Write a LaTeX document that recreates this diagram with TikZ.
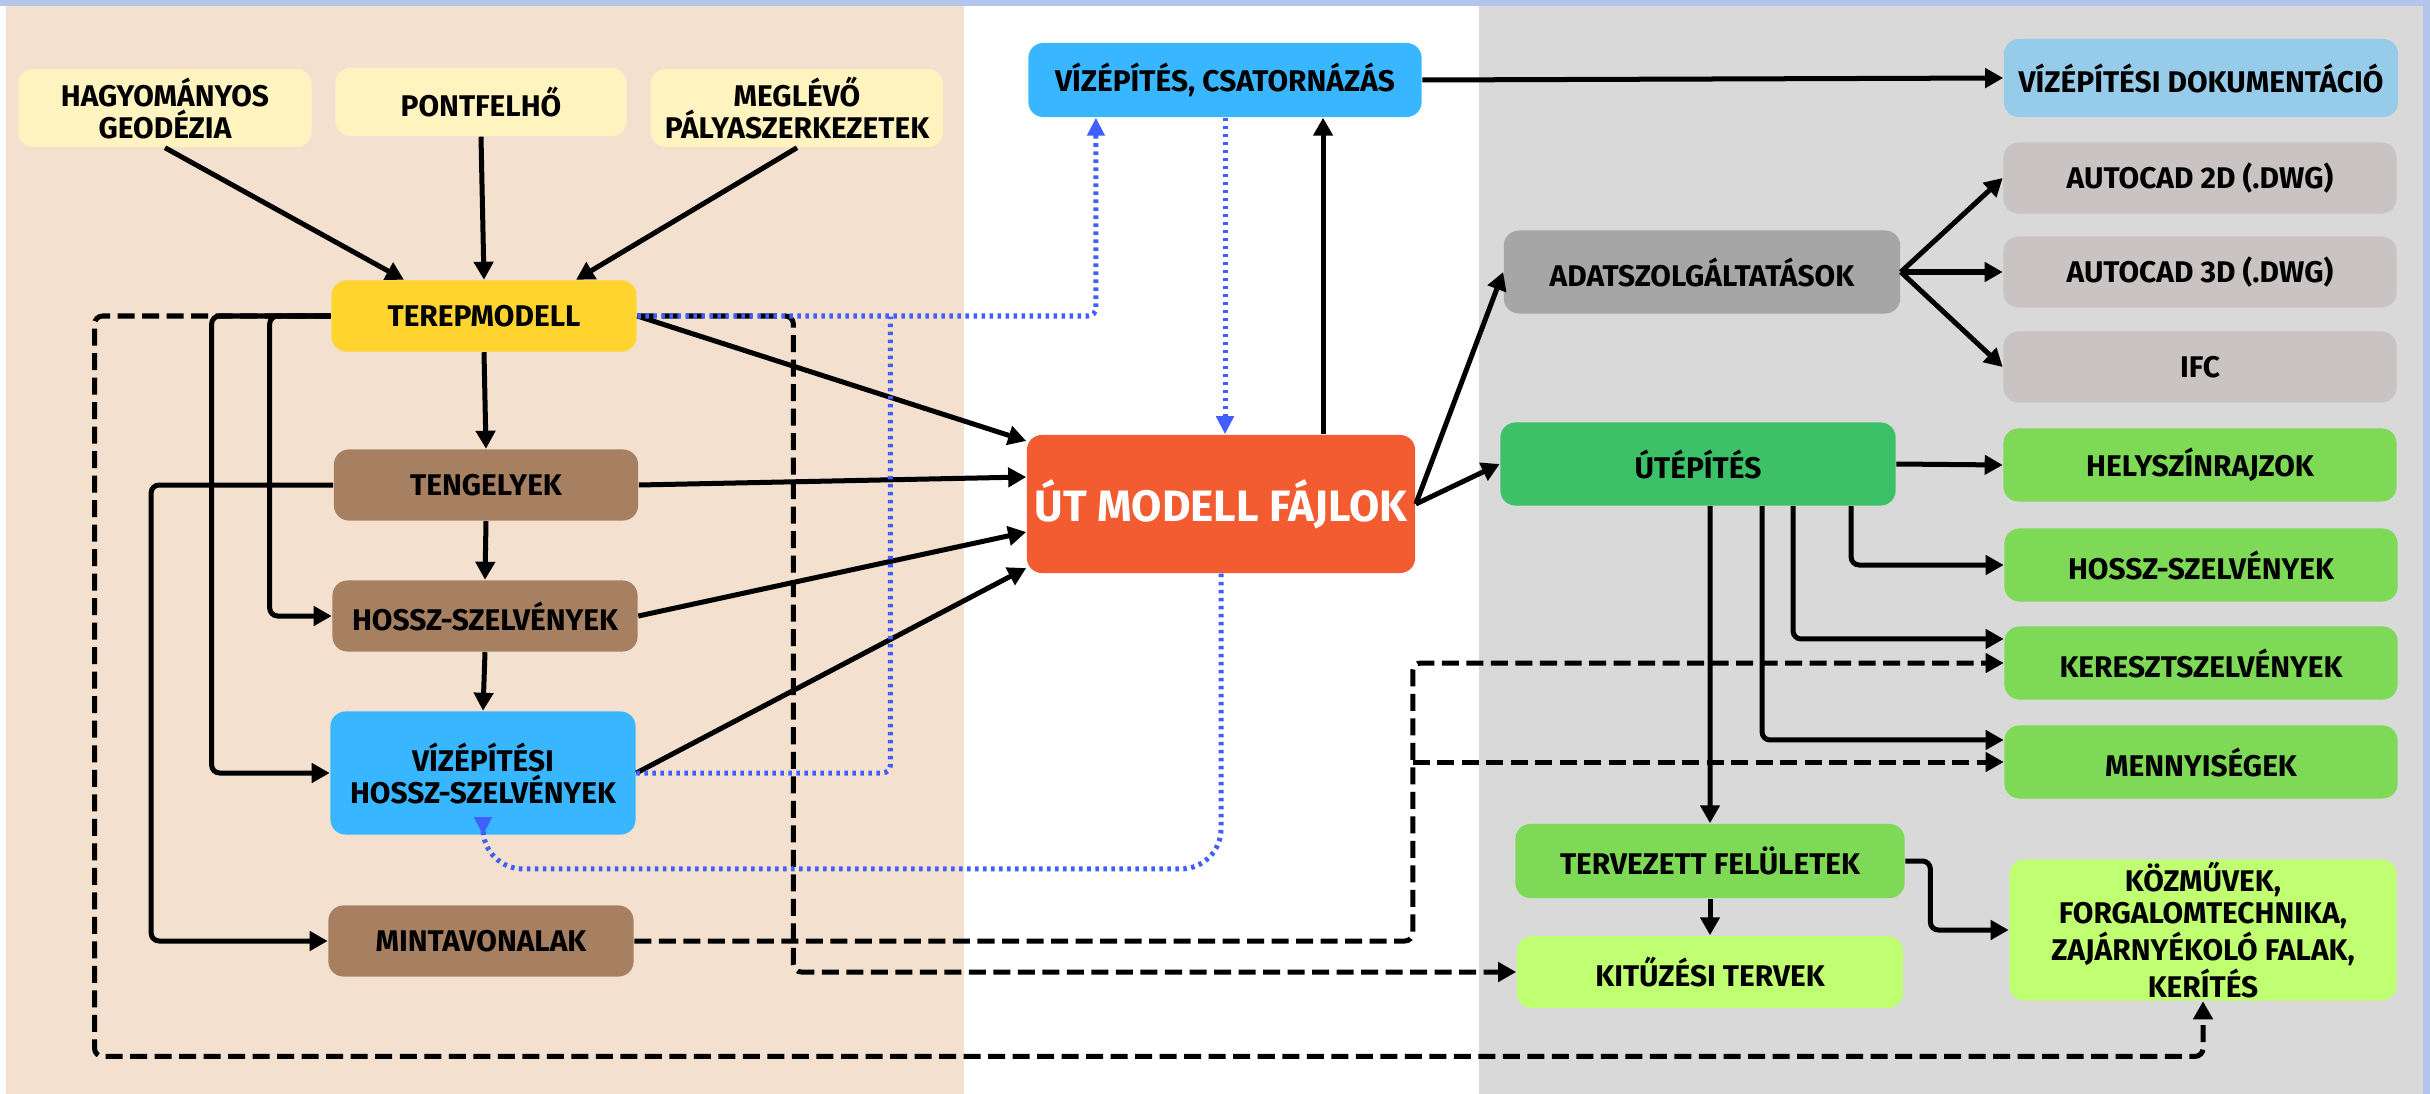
\documentclass[tikz,border=0pt]{standalone}
\usepackage{fontspec}
\setmainfont{Fira Sans}
\usetikzlibrary{arrows.meta,calc}
\definecolor{cBeige}{HTML}{F3E0CF}
\definecolor{cTop}{HTML}{B3C5EB}
\definecolor{cGrey}{HTML}{D9D9D9}
\definecolor{cYel}{HTML}{FFF3BF}
\definecolor{cGold}{HTML}{FFD42F}
\definecolor{cBrown}{HTML}{A68061}
\definecolor{cBlue}{HTML}{38B6FF}
\definecolor{cOrange}{HTML}{F35B31}
\definecolor{cAdat}{HTML}{A6A6A6}
\definecolor{cAc}{HTML}{C9C3C3}
\definecolor{cDok}{HTML}{97CBEA}
\definecolor{cUtep}{HTML}{3CC169}
\definecolor{cLG}{HTML}{7ED957}
\definecolor{cLime}{HTML}{C1FF72}
\definecolor{dotblue}{HTML}{3F5FFF}
\newcommand\nfnt{\fontsize{8.5}{9.1}\selectfont\bfseries}
\begin{document}
\begin{tikzpicture}[x=0.01cm,y=-0.01cm,
  nb/.style={rounded corners=0.15cm, align=center, inner sep=0pt, font=\nfnt, text=black},
  con/.style={line width=0.05cm, draw=black, rounded corners=0.08cm},
  arr/.style={-{Triangle[length=0.18cm,width=0.19cm]}},
  dsh/.style={dash pattern=on 0.17cm off 0.075cm},
  blu/.style={draw=dotblue, line width=0.05cm, dash pattern=on 0.035cm off 0.045cm, rounded corners=0.08cm},
  barr/.style={-{Triangle[length=0.18cm,width=0.17cm]}}]
\useasboundingbox (0,0) rectangle (2430,1094);
% backgrounds
\fill[white] (0,0) rectangle (2430,1094);
\fill[cTop] (0,0) rectangle (2430,6);
\fill[cTop] (2423,0) rectangle (2430,1094);
\fill[cBeige] (6,6) rectangle (964,1094);
\fill[cGrey] (1479,6) rectangle (2423,1094);
% nodes
\node[nb, fill=cYel, minimum width=2.93cm, minimum height=0.78cm] (hag) at (165,108) {HAGYOMÁNYOS\\GEODÉZIA};
\node[nb, fill=cYel, minimum width=2.91cm, minimum height=0.68cm] (pont) at (481,102) {PONTFELHŐ};
\node[nb, fill=cYel, minimum width=2.92cm, minimum height=0.78cm] (megl) at (797,108) {MEGLÉVŐ\\PÁLYASZERKEZETEK};
\node[nb, fill=cGold, minimum width=3.05cm, minimum height=0.71cm] (terep) at (484,316) {TEREPMODELL};
\node[nb, fill=cBrown, minimum width=3.04cm, minimum height=0.71cm] (teng) at (486,485) {TENGELYEK};
\node[nb, fill=cBrown, minimum width=3.05cm, minimum height=0.71cm] (hossz) at (485,616) {HOSSZ-SZELVÉNYEK};
\node[nb, fill=cBlue, minimum width=3.05cm, minimum height=1.23cm] (vizh) at (483,773) {VÍZÉPÍTÉSI\\HOSSZ-SZELVÉNYEK};
\node[nb, fill=cBrown, minimum width=3.05cm, minimum height=0.71cm] (minta) at (481,941) {MINTAVONALAK};
\node[nb, fill=cBlue, minimum width=3.93cm, minimum height=0.74cm] (vizcs) at (1225,80) {VÍZÉPÍTÉS, CSATORNÁZÁS};
\node[nb, fill=cOrange, minimum width=3.88cm, minimum height=1.38cm, text=white, font=\fontsize{12.5}{14}\selectfont\bfseries] (ut) at (1221,504) {ÚT MODELL FÁJLOK};
\node[nb, fill=cAdat, minimum width=3.96cm, minimum height=0.83cm] (adat) at (1702,272) {ADATSZOLGÁLTATÁSOK};
\node[nb, fill=cUtep, minimum width=3.95cm, minimum height=0.83cm] (utep) at (1698,464) {ÚTÉPÍTÉS};
\node[nb, fill=cDok, minimum width=3.94cm, minimum height=0.78cm] (dok) at (2201,78) {VÍZÉPÍTÉSI DOKUMENTÁCIÓ};
\node[nb, fill=cAc, minimum width=3.93cm, minimum height=0.71cm] (ac2) at (2200,178) {AUTOCAD 2D (.DWG)};
\node[nb, fill=cAc, minimum width=3.93cm, minimum height=0.71cm] (ac3) at (2200,272) {AUTOCAD 3D (.DWG)};
\node[nb, fill=cAc, minimum width=3.93cm, minimum height=0.71cm] (ifc) at (2200,367) {IFC};
\node[nb, fill=cLG, minimum width=3.93cm, minimum height=0.73cm] (helysz) at (2200,465) {HELYSZÍNRAJZOK};
\node[nb, fill=cLG, minimum width=3.93cm, minimum height=0.73cm] (hossz2) at (2201,565) {HOSSZ-SZELVÉNYEK};
\node[nb, fill=cLG, minimum width=3.93cm, minimum height=0.73cm] (ker) at (2201,663) {KERESZTSZELVÉNYEK};
\node[nb, fill=cLG, minimum width=3.93cm, minimum height=0.73cm] (menny) at (2201,762) {MENNYISÉGEK};
\node[nb, fill=cLime, minimum width=3.87cm, minimum height=1.41cm] (kozm) at (2203,930) {KÖZMŰVEK,\\FORGALOMTECHNIKA,\\ZAJÁRNYÉKOLÓ FALAK,\\KERÍTÉS};
\node[nb, fill=cLG, minimum width=3.89cm, minimum height=0.74cm] (terv) at (1710,861) {TERVEZETT FELÜLETEK};
\node[nb, fill=cLime, minimum width=3.86cm, minimum height=0.72cm] (kit) at (1710,972) {KITŰZÉSI TERVEK};
% helper coordinates
\coordinate (dj) at ([xshift=7.78cm]minta.east);
\coordinate (bj) at ([xshift=2.54cm]vizh.east);
% inputs to terepmodell
\draw[con,arr] (hag.south) -- ([xshift=-0.8cm]terep.north);
\draw[con,arr] (pont.south) -- (terep.north);
\draw[con,arr] (megl.south) -- ([xshift=0.92cm]terep.north);
% vertical chain
\draw[con,arr] (terep.south) -- (teng.north);
\draw[con,arr] (teng.south) -- (hossz.north);
\draw[con,arr] (hossz.south) -- (vizh.north);
% left side elbows
\draw[con,arr] (terep.west) -- ++(-1.19cm,0) |- (vizh.west);
\draw[con,arr] (terep.west) -- ++(-0.61cm,0) |- (hossz.west);
\draw[con,arr] (teng.west) -- ++(-1.82cm,0) |- (minta.west);
\draw[con,dsh,arr] (terep.west) -- ++(-2.36cm,0) -- ++(0,-7.40cm) -| (kozm.south);
% to UT MODELL
\draw[con,arr] (terep.east) -- ([yshift=0.63cm]ut.west);
\draw[con,arr] (teng.east) -- ([yshift=0.27cm]ut.west);
\draw[con,arr] (hossz.east) -- ([yshift=-0.28cm]ut.west);
\draw[con,arr] (vizh.east) -- ([yshift=-0.64cm]ut.west);
% dashed terep -> kitűzési
\draw[con,dsh,arr] (terep.east) -- ++(1.56cm,0) |- (kit.west);
% blue dotted
\draw[blu,barr] (terep.east) -| ([xshift=-1.29cm]vizcs.south);
\draw[blu] (vizh.east) -- (bj) -- ++(0,4.56cm);
\draw[blu,barr] (vizcs.south) -- (vizcs.south |- ut.north);
\draw[blu,barr,rounded corners=0.4cm] (ut.south) -- ++(0,-2.95cm) -| (vizh.south);
% up arrow ut -> vizcs
\draw[con,arr] ([xshift=1.02cm]ut.north) -- ([xshift=1.02cm]ut.north |- vizcs.south);
\draw[con,arr] (vizcs.east) -- (dok.west);
% ut -> right
\draw[con,arr] (ut.east) -- (adat.west);
\draw[con,arr] (ut.east) -- (utep.west);
\draw[con,arr] (adat.east) -- (ac2.west);
\draw[con,arr] (adat.east) -- (ac3.west);
\draw[con,arr] (adat.east) -- (ifc.west);
\draw[con,arr] (utep.east) -- (helysz.west);
\draw[con,arr] ([xshift=1.53cm]utep.south) |- (hossz2.west);
\draw[con,arr] ([xshift=0.95cm]utep.south) |- ([yshift=0.24cm]ker.west);
\draw[con,arr] ([xshift=0.64cm]utep.south) |- ([yshift=0.22cm]menny.west);
\draw[con,arr] ([xshift=0.12cm]utep.south) -- (terv.north);
\draw[con,arr] (terv.south) -- (kit.north);
\draw[con,arr] (terv.east) -- ++(0.25cm,0) |- (kozm.west);
% dashed mintavonalak
\draw[con,dsh,arr] (minta.east) -- (dj) |- (ker.west);
\draw[con,dsh,arr] (dj |- menny.west) -- (menny.west);
\end{tikzpicture}
\end{document}
